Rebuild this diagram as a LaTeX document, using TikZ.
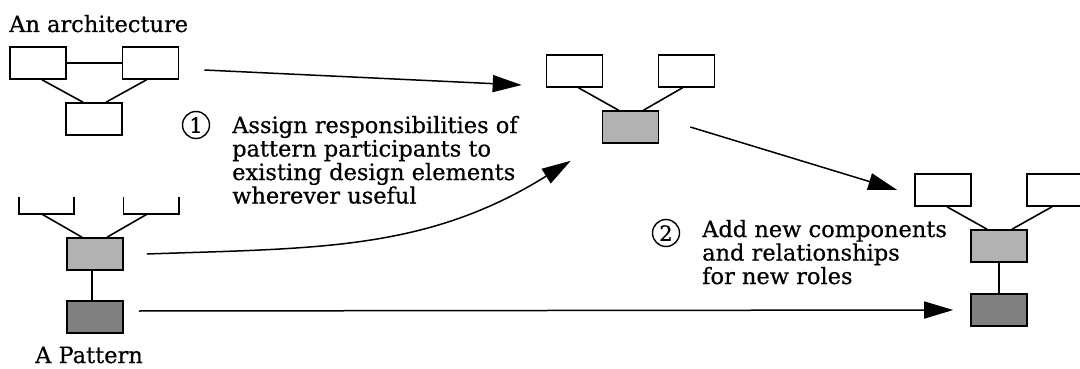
\documentclass[tikz,border=0pt]{standalone}
\usepackage{fontspec}
\setmainfont{DejaVu Serif}[FakeBold=0.6]
\usetikzlibrary{arrows.meta}
\begin{document}
\begin{tikzpicture}[x=1pt,y=-1pt,
  box/.style={draw, line width=1.6pt, minimum width=56pt, minimum height=32pt, inner sep=0pt},
  light/.style={box, fill=lightfill},
  dark/.style={box, fill=darkfill},
  brk/.style={minimum width=55pt, minimum height=17pt, inner sep=0pt},
  link/.style={line width=1.6pt},
  flow/.style={line width=1.5pt, -{Triangle[length=29pt,width=17pt]}},
  num/.style={draw, circle, line width=1.4pt, minimum size=27pt, inner sep=0pt, font=\fontsize{21}{21}\selectfont},
  txt/.style={font=\fontsize{22.5}{23.5}\selectfont, align=left, anchor=base west, inner sep=0pt}]
\definecolor{lightfill}{gray}{0.70}
\definecolor{darkfill}{gray}{0.50}
\useasboundingbox (0,0) rectangle (1080,369);
% architecture
\node[txt] (tarch) at (9,32) {An architecture};
\node[box] (a1) at (38,63) {};
\node[box] (a2) at (150.5,63) {};
\node[box] (a3) at (94,119) {};
\draw[link] (a1.east) -- (a2.west);
\draw[link] ([xshift=4pt]a1.south) -- ([xshift=-11pt]a3.north);
\draw[link] ([xshift=-4pt]a2.south) -- ([xshift=12pt]a3.north);
% pattern
\node[brk] (b1) at (46.5,205.5) {};
\node[brk] (b2) at (151,205.5) {};
\draw[link] (b1.north west) -- (b1.south west) -- (b1.south east) -- (b1.north east);
\draw[link] (b2.north west) -- (b2.south west) -- (b2.south east) -- (b2.north east);
\node[light] (p1) at (95,254) {};
\node[dark] (p2) at (95,317) {};
\draw[link] ([xshift=-4.5pt]b1.south) -- ([xshift=-13pt]p1.north);
\draw[link] ([xshift=-4pt]b2.south) -- ([xshift=12pt]p1.north);
\draw[link] ([xshift=-3pt]p1.south) -- ([xshift=-3pt]p2.north);
\node[txt] (tpat) at (35,363) {A Pattern};
% middle
\node[box] (m1) at (574.5,71) {};
\node[box] (m2) at (686.5,71) {};
\node[light] (m3) at (630.5,127) {};
\draw[link] ([xshift=4pt]m1.south) -- ([xshift=-12pt]m3.north);
\draw[link] ([xshift=-4pt]m2.south) -- ([xshift=13pt]m3.north);
% right
\node[box] (r1) at (943,190) {};
\node[box] (r2) at (1055,190) {};
\node[light] (r3) at (999,246) {};
\node[dark] (r4) at (999,310) {};
\draw[link] ([xshift=4pt]r1.south) -- ([xshift=-12pt]r3.north);
\draw[link] ([xshift=-3pt]r2.south) -- ([xshift=13pt]r3.north);
\draw[link] (r3.south) -- (r4.north);
% arrows
\draw[flow] ([xshift=25pt,yshift=-7pt]a2.east) -- ([xshift=-24pt,yshift=-14pt]m1.west);
\draw[flow] ([xshift=23pt]p1.east) to[out=2,in=212] ([xshift=-31pt,yshift=-17pt]m3.south west);
\draw[flow] ([xshift=31pt]m3.east) -- ([xshift=-17pt]r1.west);
\draw[flow] ([xshift=15pt,yshift=6pt]p2.east) -- ([xshift=-17pt]r4.west);
% steps
\node[num] (n1) at (196,125) {1};
\node[txt] (t1) at (232,203.5) {Assign responsibilities of\\pattern participants to\\existing design elements\\wherever useful};
\node[num] (n2) at (666,233) {2};
\node[txt] (t2) at (702,284) {Add new components\\and relationships\\for new roles};
\end{tikzpicture}
\end{document}
